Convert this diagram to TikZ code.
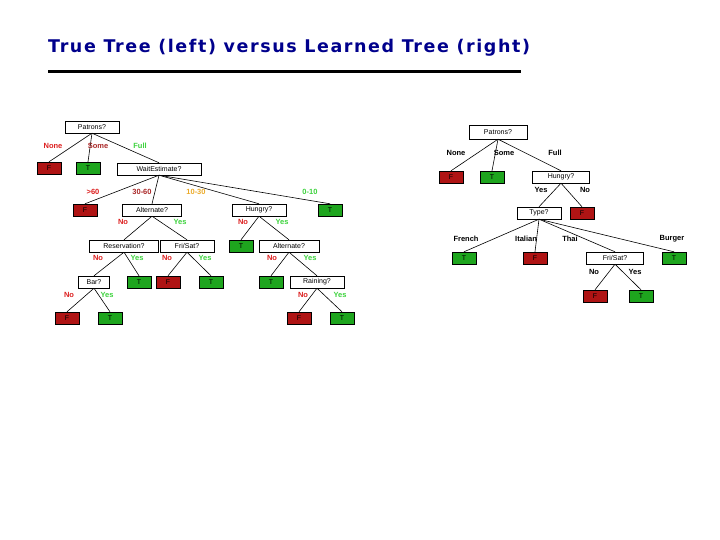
\documentclass[tikz,border=0pt]{standalone}
\usepackage{fontspec}
\setmainfont{Liberation Sans}
\newfontfamily\titlefont[LetterSpace=9]{DejaVu Sans}
\definecolor{ttl}{RGB}{0,0,140}
\definecolor{leafred}{RGB}{175,20,20}
\definecolor{leafgreen}{RGB}{30,165,30}
\definecolor{lred}{RGB}{220,30,30}
\definecolor{ldred}{RGB}{170,40,40}
\definecolor{lgreen}{RGB}{60,210,60}
\definecolor{lorange}{RGB}{235,170,40}
\begin{document}
\begin{tikzpicture}[x=1pt,y=-1pt,
  q/.style={draw,fill=white,minimum height=12pt,inner sep=1pt,font=\fontsize{7}{8}\selectfont},
  fl/.style={draw,fill=leafred,minimum width=24pt,minimum height=12pt,inner sep=0pt,font=\fontsize{7}{8}\selectfont},
  tl/.style={draw,fill=leafgreen,minimum width=24pt,minimum height=12pt,inner sep=0pt,font=\fontsize{7}{8}\selectfont},
  lab/.style={font=\bfseries\fontsize{7.5}{8}\selectfont,inner sep=0pt},
  e/.style={black,line width=0.6pt}]
\useasboundingbox (0,0) rectangle (720,540);
\node[anchor=west,text=ttl,font=\titlefont\bfseries\fontsize{17.5}{19}\selectfont,inner sep=0pt] (title) at (48,48) {True Tree (left) versus Learned Tree (right)};
\coordinate (u1) at (48,72); \coordinate (u2) at (521,72);
\draw[line width=3pt] (u1) -- (u2);
% left tree
\node[q,minimum width=54pt] (p) at (92,127) {Patrons?};
\node[fl] (pf) at (49,168) {F};
\node[tl] (pt) at (88,168) {T};
\node[q,minimum width=84pt] (w) at (159,169) {WaitEstimate?};
\node[fl] (wf) at (85,210) {F};
\node[q,minimum width=59pt] (a1) at (152,210) {Alternate?};
\node[q,minimum width=54pt] (h) at (259,210) {Hungry?};
\node[tl] (wt) at (330,210) {T};
\node[q,minimum width=69pt] (r) at (124,246) {Reservation?};
\node[q,minimum width=54pt] (fs) at (187,246) {Fri/Sat?};
\node[tl] (ht) at (241,246) {T};
\node[q,minimum width=60pt] (a2) at (289,246) {Alternate?};
\node[q,minimum width=31pt] (b) at (94,282) {Bar?};
\node[tl] (rt) at (139,282) {T};
\node[fl] (fsf) at (168,282) {F};
\node[tl] (fst) at (211,282) {T};
\node[tl] (a2t) at (271,282) {T};
\node[q,minimum width=54pt] (rn) at (317,282) {Raining?};
\node[fl] (bf) at (67,318) {F};
\node[tl] (bt) at (110,318) {T};
\node[fl] (rnf) at (299,318) {F};
\node[tl] (rnt) at (342,318) {T};
\foreach \s/\t in {p/pf,p/pt,p/w,w/wf,w/a1,w/h,w/wt,a1/r,a1/fs,h/ht,h/a2,r/b,r/rt,fs/fsf,fs/fst,a2/a2t,a2/rn,b/bf,b/bt,rn/rnf,rn/rnt}
  \draw[e] (\s.south) -- (\t.north);
\node[lab,text=lred] (l1) at (53,146) {None};
\node[lab,text=ldred] (l2) at (98,146) {Some};
\node[lab,text=lgreen] (l3) at (140,146) {Full};
\node[lab,text=lred] (l4) at (93,192) {>60};
\node[lab,text=ldred] (l5) at (142,192) {30-60};
\node[lab,text=lorange] (l6) at (196,192) {10-30};
\node[lab,text=lgreen] (l7) at (310,192) {0-10};
\node[lab,text=lred] (l8) at (123,222) {No};
\node[lab,text=lgreen] (l9) at (180,222) {Yes};
\node[lab,text=lred] (l10) at (243,222) {No};
\node[lab,text=lgreen] (l11) at (282,222) {Yes};
\node[lab,text=lred] (l12) at (98,258) {No};
\node[lab,text=lgreen] (l13) at (137,258) {Yes};
\node[lab,text=lred] (l14) at (167,258) {No};
\node[lab,text=lgreen] (l15) at (205,258) {Yes};
\node[lab,text=lred] (l16) at (272,258) {No};
\node[lab,text=lgreen] (l17) at (310,258) {Yes};
\node[lab,text=lred] (l18) at (69,295) {No};
\node[lab,text=lgreen] (l19) at (107,295) {Yes};
\node[lab,text=lred] (l20) at (303,295) {No};
\node[lab,text=lgreen] (l21) at (340,295) {Yes};
% right tree
\node[q,minimum width=58pt,minimum height=14pt] (P) at (498,132) {Patrons?};
\node[fl] (Pf) at (451,177) {F};
\node[tl] (Pt) at (492,177) {T};
\node[q,minimum width=57pt] (H) at (561,177) {Hungry?};
\node[q,minimum width=44pt] (Ty) at (539,213) {Type?};
\node[fl] (Hf) at (582,213) {F};
\node[tl] (Tf) at (464,258) {T};
\node[fl] (Ti) at (535,258) {F};
\node[q,minimum width=57pt] (FS) at (615,258) {Fri/Sat?};
\node[tl] (Tb) at (674,258) {T};
\node[fl] (FSf) at (595,296) {F};
\node[tl] (FSt) at (641,296) {T};
\foreach \s/\t in {P/Pf,P/Pt,P/H,H/Ty,H/Hf,Ty/Tf,Ty/Ti,Ty/FS,Ty/Tb,FS/FSf,FS/FSt}
  \draw[e] (\s.south) -- (\t.north);
\node[lab] (L1) at (456,153) {None};
\node[lab] (L2) at (504,153) {Some};
\node[lab] (L3) at (555,153) {Full};
\node[lab] (L4) at (541,190) {Yes};
\node[lab] (L5) at (585,190) {No};
\node[lab] (L6) at (466,239) {French};
\node[lab] (L7) at (526,239) {Italian};
\node[lab] (L8) at (570,239) {Thai};
\node[lab] (L9) at (672,239) {Burger};
\node[lab] (L10) at (594,272) {No};
\node[lab] (L11) at (635,272) {Yes};
\end{tikzpicture}
\end{document}
